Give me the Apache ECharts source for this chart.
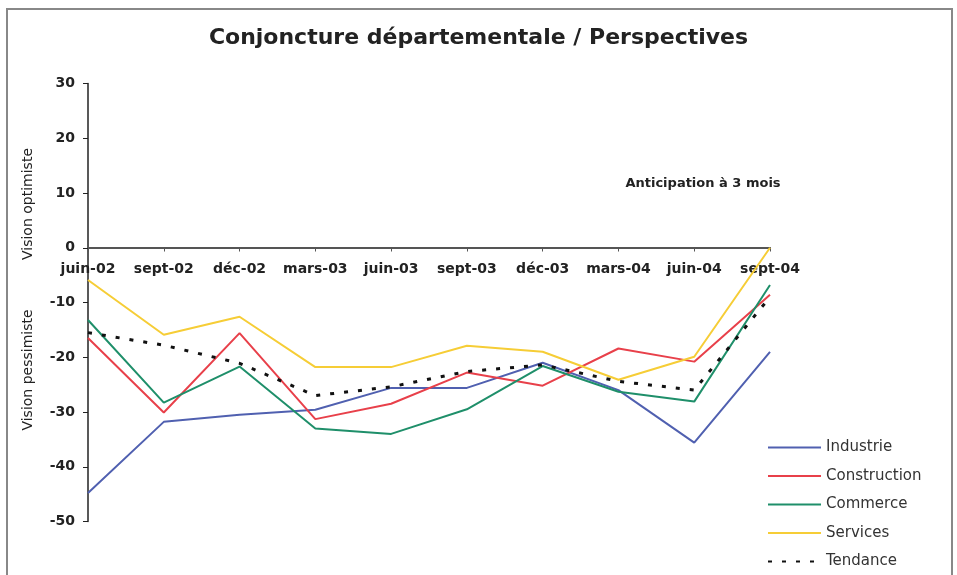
<!DOCTYPE html>
<html>
<head>
<meta charset="utf-8">
<script src="https://cdn.jsdelivr.net/npm/echarts@6/dist/echarts.min.js"></script>
<style>
  html, body { margin: 0; padding: 0; background: #fff; }
  #chart { width: 957px; height: 575px; }
</style>
</head>
<body>
<div id="chart"></div>
<script>
// données
const mois = ["juin-02", "sept-02", "déc-02", "mars-03", "juin-03", "sept-03", "déc-03", "mars-04", "juin-04", "sept-04"];
const industrie = [-44.8, -31.8, -30.5, -29.6, -25.6, -25.6, -21, -26, -35.6, -19];
const construction = [-16.5, -30.1, -15.6, -31.3, -28.5, -22.8, -25.2, -18.4, -20.8, -8.6];
const commerce = [-13.2, -28.3, -21.7, -33, -34, -29.5, -21.6, -26.3, -28.1, -6.8];
const services = [-5.9, -15.9, -12.6, -21.8, -21.8, -17.9, -19, -24.1, -19.9, 0];
const tendance = [-15.5, -17.8, -21.1, -27, -25.4, -22.6, -21.4, -24.4, -26, -9];
const yTicks = [-50, -40, -30, -20, -10, 0, 10, 20, 30];

const chart = echarts.init(document.getElementById("chart"));

function ligne(name, data, color) {
  return {
    name: name,
    type: "line",
    data: data,
    symbol: "none",
    lineStyle: { color: color, width: 2 },
    itemStyle: { color: color },
  };
}

const option = {
  backgroundColor: "#fff",
  animation: false,
  title: {
    text: "Conjoncture départementale / Perspectives",
    left: "center",
    top: 22,
    textStyle: { fontFamily: "DejaVu Sans", fontWeight: "bold", fontSize: 22, color: "#222" },
  },
  grid: { left: 88, right: 187, top: 83.5, bottom: 53.5 },
  legend: {
    orient: "vertical",
    left: 767,
    top: 440,
    padding: 0,
    itemWidth: 53,
    itemHeight: 14,
    itemGap: 13.5,
    itemStyle: { opacity: 0 },
    textStyle: { fontFamily: "DejaVu Sans", fontSize: 15, color: "#333" },
    data: ["Industrie", "Construction", "Commerce", "Services", "Tendance"],
  },
  xAxis: {
    type: "category",
    data: mois,
    boundaryGap: false,
    offset: -274,
    axisLine: { onZero: false, lineStyle: { color: "#555", width: 2 } },
    axisTick: { show: true, length: 4, lineStyle: { color: "#555" } },
    axisLabel: {
      interval: 0,
      margin: 15,
      fontFamily: "DejaVu Sans",
      fontWeight: "bold",
      fontSize: 14,
      color: "#222",
    },
    splitLine: { show: false },
  },
  yAxis: {
    type: "value",
    min: yTicks[0],
    max: yTicks[yTicks.length - 1],
    interval: 10,
    axisLine: { show: true, lineStyle: { color: "#222", width: 1.5 } },
    axisTick: { show: true, length: 5, lineStyle: { color: "#222" } },
    axisLabel: {
      margin: 13,
      fontFamily: "DejaVu Sans",
      fontWeight: "bold",
      fontSize: 14,
      color: "#222",
    },
    splitLine: { show: false },
  },
  graphic: [
    {
      type: "rect",
      shape: { x: 7, y: 9, width: 945, height: 620 },
      style: { fill: "none", stroke: "#888", lineWidth: 2 },
      silent: true,
    },
    {
      type: "text",
      x: 28, y: 204, rotation: Math.PI / 2,
      style: { text: "Vision optimiste", fontFamily: "DejaVu Sans", fontSize: 14, fill: "#222", align: "center", verticalAlign: "middle" },
    },
    {
      type: "text",
      x: 28, y: 370, rotation: Math.PI / 2,
      style: { text: "Vision pessimiste", fontFamily: "DejaVu Sans", fontSize: 14, fill: "#222", align: "center", verticalAlign: "middle" },
    },
    {
      type: "text",
      x: 703, y: 184,
      style: { text: "Anticipation à 3 mois", fontFamily: "DejaVu Sans", fontWeight: "bold", fontSize: 13, fill: "#222", align: "center", verticalAlign: "middle" },
    },
  ],
  series: [
    ligne("Industrie", industrie, "#5060b0"),
    ligne("Construction", construction, "#e8404a"),
    ligne("Commerce", commerce, "#1f8f6a"),
    ligne("Services", services, "#f6cd36"),
    {
      name: "Tendance",
      type: "line",
      data: tendance,
      symbol: "none",
      lineStyle: { color: "#111", width: 3, type: [4, 10] },
      itemStyle: { color: "#111" },
      z: 5,
    },
  ],
};

chart.setOption(option);
</script>
</body>
</html>
